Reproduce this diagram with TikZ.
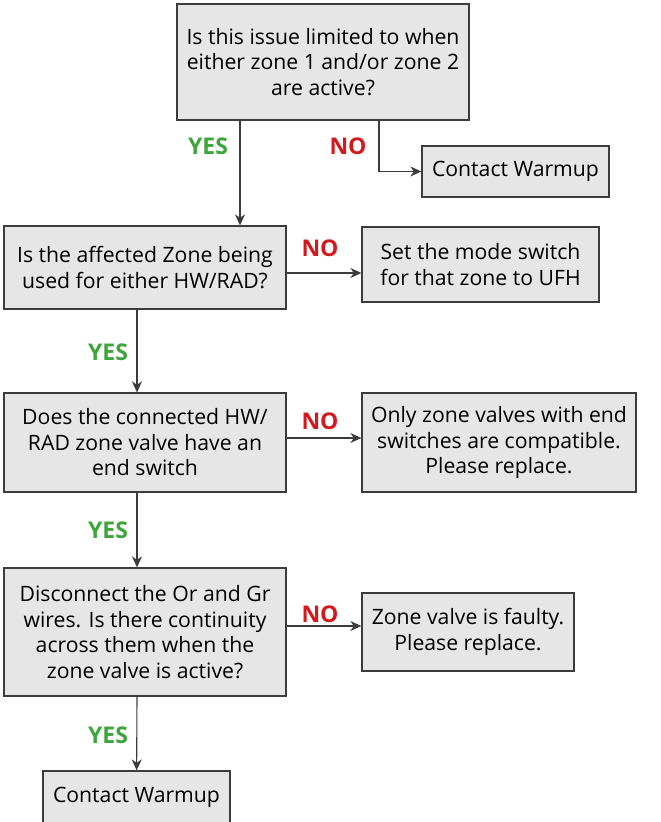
\documentclass[tikz,border=0pt]{standalone}
\usepackage{fontspec}
\setmainfont{Open Sans}
\usetikzlibrary{arrows.meta,positioning}
\definecolor{boxfill}{HTML}{E6E6E6}
\definecolor{boxline}{HTML}{3C3C3C}
\definecolor{yesgreen}{HTML}{3DA53A}
\definecolor{nored}{HTML}{D2191E}
\begin{document}
\begin{tikzpicture}[x=1pt, y=-1pt,
    step box/.style={rectangle, draw=boxline, fill=boxfill, line width=1.3pt, inner sep=0pt, align=center, font=\fontsize{21.2}{25.5}\selectfont},
    yes/.style={font=\bfseries\fontsize{23}{25}\selectfont, text=yesgreen},
    no/.style={font=\bfseries\fontsize{23}{25}\selectfont, text=nored},
    link/.style={-{Stealth[length=11pt, width=10pt, inset=3.5pt]}, line width=1.1pt, draw=boxline}
]
\useasboundingbox (0,0) rectangle (661,822);

% Fragen und Antworten
\node[step box, minimum width=292pt, minimum height=116pt] (q1) at (323,62) {Is this issue limited to when\\either zone 1 and/or zone 2\\are active?};
\node[step box, minimum width=187pt, minimum height=51pt] (warm1) at (515.5,171.5) {Contact Warmup};

\node[step box, minimum width=282pt, minimum height=83pt] (q2) at (145,267.5) {Is the affected Zone being\\used for either HW/RAD?};
\node[step box, minimum width=237pt, minimum height=75pt] (ufh) at (480.5,264.5) {Set the mode switch\\for that zone to UFH};

\node[step box, minimum width=282pt, minimum height=99pt] (q3) at (145,442.5) {Does the connected HW/\\RAD zone valve have an\\end switch};
\node[step box, minimum width=274pt, minimum height=99pt] (endsw) at (499,442.5) {Only zone valves with end\\switches are compatible.\\Please replace.};

\node[step box, minimum width=282pt, minimum height=128pt] (q4) at (145,632) {Disconnect the Or and Gr\\wires. Is there continuity\\across them when the\\zone valve is active?};
\node[step box, minimum width=212pt, minimum height=78pt] (faulty) at (468,632) {Zone valve is faulty.\\Please replace.};

\node[step box, minimum width=187pt, minimum height=52pt] (warm2) at (136.5,797) {Contact Warmup};

% Beschriftungen
\node[yes] (yes1) at (208,146) {YES};
\node[no] (no1) at (348,146) {NO};
\node[no] (no2) at (320,248) {NO};
\node[yes] (yes2) at (108,352) {YES};
\node[no] (no3) at (320,421) {NO};
\node[yes] (yes3) at (108,530) {YES};
\node[no] (no4) at (320,614) {NO};
\node[yes] (yes4) at (108,735) {YES};

% Verbindungen
\draw[link] ([xshift=56pt]q1.south) |- (warm1);
\draw[link] ([xshift=-83pt]q1.south) -- ([xshift=-83pt]q1.south |- q2.north);
\draw[link] (q2.east |- ufh.center) ++(0,8.5) coordinate (n2) -- (n2 -| ufh.west);
\draw[link] ([xshift=-8pt]q2.south) -- ([xshift=-8pt]q2.south |- q3.north);
\draw[link] ([yshift=4.5pt]q3.east) -- ([yshift=4.5pt]q3.east -| endsw.west);
\draw[link] ([xshift=-8pt]q3.south) -- ([xshift=-8pt]q3.south |- q4.north);
\draw[link] ([yshift=6pt]q4.east) -- ([yshift=6pt]q4.east -| faulty.west);
\draw[link] ([xshift=-8pt]q4.south) -- (warm2);
\end{tikzpicture}
\end{document}
